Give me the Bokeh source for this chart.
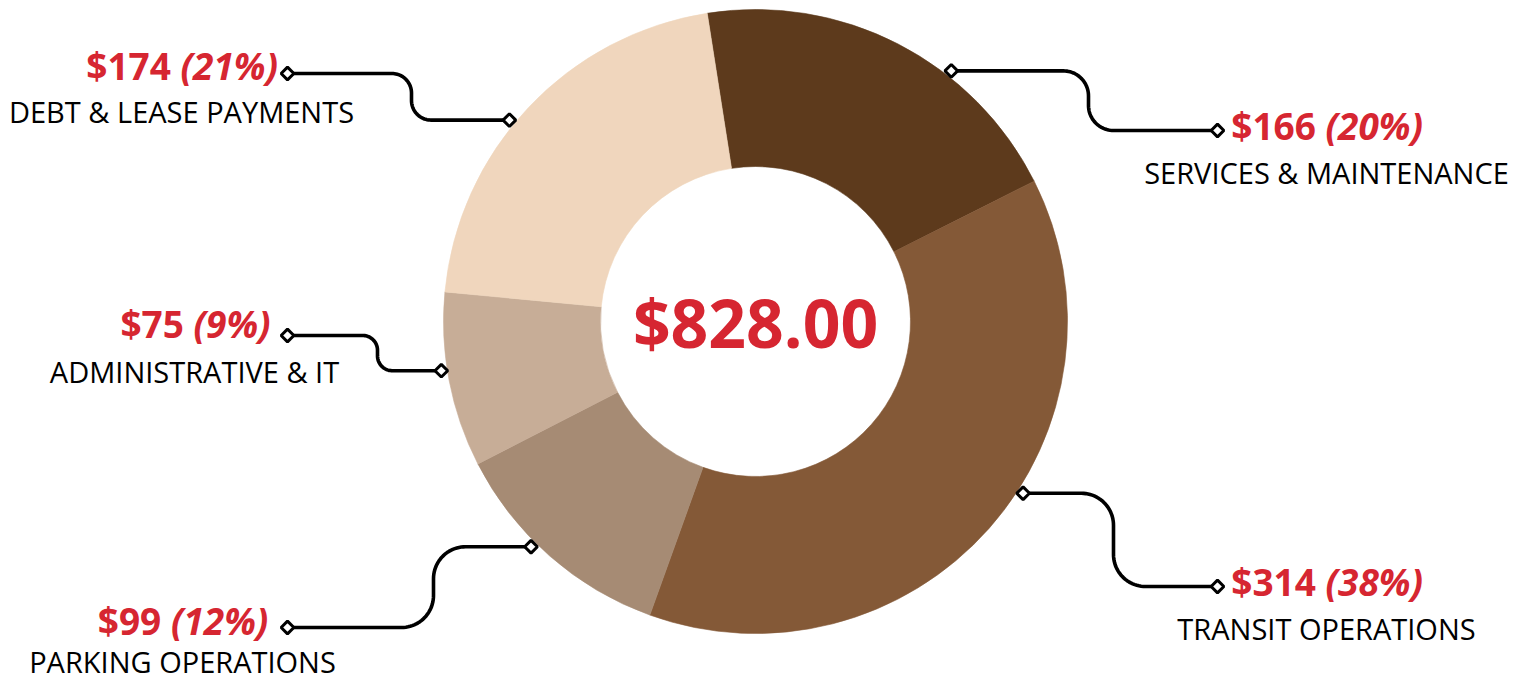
import numpy as np
from bokeh.plotting import figure
from bokeh.models import Range1d, ColumnDataSource
from bokeh.core.properties import value
from bokeh.embed import file_html
from bokeh.resources import INLINE

# ---------------- data ----------------
categories = ["SERVICES & MAINTENANCE", "TRANSIT OPERATIONS", "PARKING OPERATIONS",
              "ADMINISTRATIVE & IT", "DEBT & LEASE PAYMENTS"]
amounts = [166, 314, 99, 75, 174]
colors = ["#5d3a1c", "#845937", "#a68b74", "#c7ad97", "#f0d6bd"]

# ---------------- layout (pixel coordinates of the page) ----------------
W, H = 1526, 681
PAGE_H = 681
CX, CY = 755, 321
R_OUT, R_IN = 312, 155
START_DEG = 98.9
RED = "#d62631"
FONT = "Open Sans"

# per-category label layout: anchor angle on ring, label diamond (x, y), bend x,
# text group center x, value baseline, label baseline
anchor_deg = [52.0, -32.7, 225.1, 188.9, 140.7]
label_pt = [(1217, 130), (1217, 586), (287, 627), (287, 335), (287, 73)]
bend_x = [1088, 1113, 433, 377, 411]
text_cx = [1326, 1326, 182, 194, 181]
val_base = [125, 581, 620, 323, 65]
lab_base = [172, 628, 661, 371, 111]
center_base = 321


def Y(py):
    return PAGE_H - py


total = sum(amounts)
pcts = [round(a / total * 100) for a in amounts]

p = figure(width=W, height=H, x_range=Range1d(0, W), y_range=Range1d(PAGE_H - H, PAGE_H),
           output_backend="svg", toolbar_location=None, x_axis_location=None, y_axis_location=None,
           min_border=0, outline_line_color=None)
p.grid.visible = False
p.background_fill_color = "white"
p.border_fill_color = "white"

# ---------------- donut ----------------
fr = np.array(amounts) / total
cum = np.concatenate([[0], np.cumsum(fr)])
start = np.deg2rad(START_DEG) - cum[:-1] * 2 * np.pi
end = np.deg2rad(START_DEG) - cum[1:] * 2 * np.pi
src = ColumnDataSource(dict(start=start, end=end, color=colors, cat=categories))
p.annular_wedge(x=CX, y=Y(CY), inner_radius=R_IN, outer_radius=R_OUT, start_angle="start",
                end_angle="end", direction="clock", fill_color="color", line_color="color",
                line_width=0.6, source=src)

p.text(x=[CX], y=[Y(center_base)], text=[f"${total:,.2f}"], text_font=value(FONT),
       text_font_size="66px", text_font_style="bold", text_color=RED, text_align="center",
       text_baseline="alphabetic")

# ---------------- connectors ----------------
def connector(xl, yl, xa, ya, xb):
    dy = abs(ya - yl)
    r = min(32.0, dy * 0.42)
    sx = np.sign(xa - xl)
    sy = np.sign(ya - yl)
    t = np.linspace(0, np.pi / 2, 24)
    xs = [xl]
    ys = [yl]
    c1 = (xb - sx * r, yl + sy * r)
    xs += list(c1[0] + sx * r * np.sin(t))
    ys += list(c1[1] - sy * r * np.cos(t))
    c2 = (xb + sx * r, ya - sy * r)
    xs += list(c2[0] - sx * r * np.cos(t))
    ys += list(c2[1] + sy * r * np.sin(t))
    xs.append(xa)
    ys.append(ya)
    return xs, [Y(v) for v in ys]

R_ANCH = R_OUT + 6
mx, my = [], []
for i in range(len(amounts)):
    a = np.deg2rad(anchor_deg[i])
    xa = CX + R_ANCH * np.cos(a)
    ya = CY - R_ANCH * np.sin(a)
    xl, yl = label_pt[i]
    xs, ys = connector(xl, yl, xa, ya, bend_x[i])
    p.line(xs, ys, line_color="black", line_width=3.6, line_cap="round", line_join="round")
    mx += [xl, xa]
    my += [Y(yl), Y(ya)]

p.scatter(mx, my, marker="square", size=9, angle=np.pi / 4, fill_color="white",
          line_color="black", line_width=3)

# ---------------- texts ----------------
FS_VAL = 37
FS_LAB = 29
wtab = {"$": 0.572, " ": 0.26, "(": 0.31, ")": 0.31, "%": 0.84}

def width(s):
    return sum(wtab.get(c, 0.572) for c in s) * FS_VAL

bx, by, bt, ix, iy, it = [], [], [], [], [], []
for i in range(len(amounts)):
    s1 = f"${amounts[i]}"
    s2 = f"({pcts[i]}%)"
    w1, w2, sp = width(s1), width(s2), wtab[" "] * FS_VAL
    left = text_cx[i] - (w1 + sp + w2) / 2
    bx.append(left + w1)
    by.append(Y(val_base[i]))
    bt.append(s1)
    ix.append(left + w1 + sp)
    iy.append(Y(val_base[i]))
    it.append(s2)

p.text(x=bx, y=by, text=bt, text_font=value(FONT), text_font_size=f"{FS_VAL}px",
       text_font_style="bold", text_color=RED, text_align="right", text_baseline="alphabetic")
p.text(x=ix, y=iy, text=it, text_font=value(FONT), text_font_size=f"{FS_VAL}px",
       text_font_style="bold italic", text_color=RED, text_align="left", text_baseline="alphabetic")
p.text(x=text_cx, y=[Y(v) for v in lab_base], text=categories, text_font=value(FONT),
       text_font_size=f"{FS_LAB}px", text_color="black", text_align="center",
       text_baseline="alphabetic")

open("out.html", "w").write(file_html(p, INLINE))
